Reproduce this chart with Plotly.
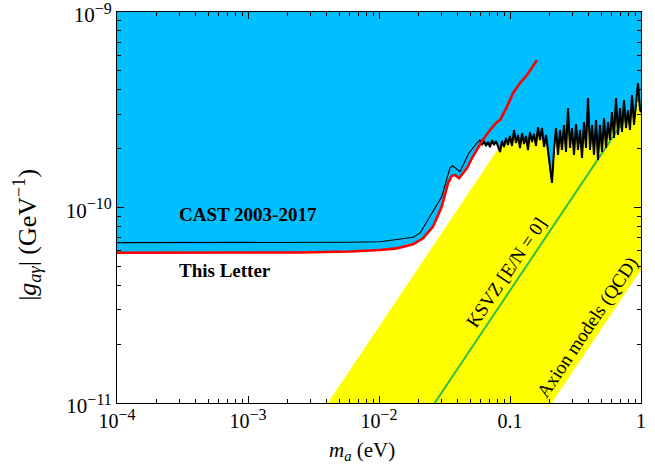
import plotly.graph_objects as go
import math

# ---------------- data ----------------
# CAST 2003-2017 limit: axion mass (eV) and coupling (units of 1e-10 GeV^-1)
cast_m = [1e-4, 0.0025, 0.0060, 0.0102, 0.01446, 0.0182, 0.0206, 0.0301, 0.0348, 0.0365,
          0.0415, 0.0486, 0.0560,
          0.0590, 0.0611, 0.0633, 0.0656, 0.0679, 0.0704, 0.0729, 0.0755, 0.0782, 0.0810,
          0.0839, 0.0869, 0.0900, 0.0932, 0.0965, 0.1000, 0.1036, 0.1073, 0.1111, 0.1151,
          0.1192, 0.1235, 0.1279, 0.1325, 0.1372, 0.1421, 0.1472, 0.1525, 0.1579, 0.1636,
          0.1694, 0.1755, 0.1818, 0.1883, 0.1950, 0.2020, 0.2092, 0.2167, 0.2245, 0.2325,
          0.2408, 0.2494, 0.2584, 0.2676, 0.2772, 0.2871, 0.2974, 0.3080, 0.3190, 0.3304,
          0.3422, 0.3545, 0.3672, 0.3803, 0.3939, 0.4080, 0.4226, 0.4377, 0.4534, 0.4696,
          0.4864, 0.5038, 0.5218, 0.5405, 0.5598, 0.5798, 0.6006, 0.6221, 0.6443, 0.6674,
          0.6912, 0.7160, 0.7416, 0.7681, 0.7956, 0.8241, 0.8536, 0.8841, 0.9158, 0.9486,
          0.9826, 1.0]
cast_g = [0.661, 0.661, 0.664, 0.668, 0.690, 0.704, 0.741, 1.136, 1.592, 1.636,
          1.524, 1.90, 2.138,
          2.214, 2.088, 2.188, 2.064, 2.163, 2.039, 2.214, 2.088, 2.188, 2.064,
          1.922, 2.188, 2.039, 2.267, 2.088, 2.321, 2.064, 2.491, 2.138, 2.349,
          2.015, 2.404, 2.113, 2.321, 1.968, 2.433, 2.163, 2.377, 2.064, 2.580,
          2.214, 2.550, 2.039, 2.349, 1.968, 1.650, 1.335, 1.968, 2.550, 1.855,
          2.491, 1.968, 2.642, 1.922, 3.228, 2.015, 2.550, 1.855, 2.674, 1.968,
          2.491, 1.791, 2.737, 2.015, 3.633, 1.968, 2.642, 1.855, 2.803, 1.750,
          2.642, 1.922, 2.870, 2.015, 2.737, 2.214, 3.080, 2.267, 3.633, 2.349,
          3.228, 2.433, 3.548, 2.550, 3.153, 2.491, 3.762, 2.642, 3.548, 4.334,
          3.153, 3.080]

# This Letter limit
letter_m = [1e-4, 0.0025, 0.0060, 0.0102, 0.01365, 0.01818, 0.02167, 0.02584, 0.0301,
            0.0336, 0.0359, 0.0380, 0.0408, 0.0470, 0.0513, 0.0560, 0.0611, 0.0704,
            0.0796, 0.0839, 0.0949, 0.1054, 0.1192, 0.1348, 0.1607]
letter_g = [0.587, 0.589, 0.596, 0.606, 0.618, 0.648, 0.696, 0.798, 1.009,
            1.330, 1.449, 1.466, 1.411, 1.592, 1.791, 1.968, 2.188, 2.491,
            2.737, 2.803, 3.28, 3.84, 4.33, 4.76, 5.68]

G_UNIT = 1e-10  # GeV^-1

# QCD axion band edges and KSVZ line: g = coef * m  (GeV^-1 per eV)
band_upper_coef = 2.46e-9
band_lower_coef = 4.8e-11
ksvz_coef = 3.76e-10

x_range = (1e-4, 1.0)
y_range = (1e-11, 1e-9)

SUP = "<sup><span style='font-size:16px'>{}</span></sup>"
x_tickvals = [1e-4, 1e-3, 1e-2, 0.1, 1]
x_ticktext = ["10" + SUP.format("\u22124"), "10" + SUP.format("\u22123"),
              "10" + SUP.format("\u22122"), "0.1", "1"]
y_tickvals = [1e-11, 1e-10, 1e-9]
y_ticktext = ["10" + SUP.format("\u221211"), "10" + SUP.format("\u221210"),
              "10" + SUP.format("\u22129")]

# ---------------- figure ----------------
CYAN = "#00BFFF"
YELLOW = "#FFFF00"
GREEN = "#2DBE4B"
FONT = "Liberation Serif"

cast_gv = [v * G_UNIT for v in cast_g]
letter_gv = [v * G_UNIT for v in letter_g]

fig = go.Figure()

# yellow QCD band
ylo, yhi = y_range
xlo, xhi = x_range
band_x = [ylo / band_upper_coef, ylo / band_lower_coef, xhi, xhi, yhi / band_upper_coef]
band_y = [ylo, ylo, band_lower_coef * xhi, yhi, yhi]
fig.add_trace(go.Scatter(x=band_x, y=band_y, fill="toself", fillcolor=YELLOW,
                         mode="none", hoverinfo="skip", showlegend=False))

# KSVZ line
ksvz_x = [ylo / ksvz_coef, xhi]
ksvz_y = [ylo, ksvz_coef * xhi]
fig.add_trace(go.Scatter(x=ksvz_x, y=ksvz_y, mode="lines",
                         line=dict(color=GREEN, width=2), showlegend=False))

# cyan excluded regions
fig.add_trace(go.Scatter(x=cast_m + [xhi, xlo], y=cast_gv + [yhi, yhi], fill="toself",
                         fillcolor=CYAN, mode="none", showlegend=False))
fig.add_trace(go.Scatter(x=letter_m + [letter_m[-1], xlo], y=letter_gv + [yhi, yhi],
                         fill="toself", fillcolor=CYAN, mode="none", showlegend=False))

# limit curves
fig.add_trace(go.Scatter(x=cast_m, y=cast_gv, mode="lines",
                         line=dict(color="black", width=1.1), showlegend=False))
# the noisy high-mass part of the CAST curve is drawn a little heavier
noisy = [i for i, m in enumerate(cast_m) if m >= 0.059]
fig.add_trace(go.Scatter(x=[cast_m[i] for i in noisy], y=[cast_gv[i] for i in noisy],
                         mode="lines", line=dict(color="black", width=2.0),
                         showlegend=False))
fig.add_trace(go.Scatter(x=letter_m, y=letter_gv, mode="lines",
                         line=dict(color="#FF0000", width=2.6), showlegend=False))

minor_x = [k * 10 ** e for e in range(-4, 0) for k in range(2, 10)]
minor_y = [k * 10 ** e for e in range(-11, -9) for k in range(2, 10)]

axis_common = dict(showline=True, linecolor="black", linewidth=1, mirror="allticks",
                   ticks="inside", ticklen=7, tickwidth=1, tickcolor="black",
                   showgrid=False, zeroline=False, ticklabeloverflow="allow",
                   automargin=False)

fig.update_xaxes(type="log", range=[math.log10(xlo), math.log10(xhi)],
                 tickmode="array", tickvals=x_tickvals, ticktext=x_ticktext,
                 tickfont=dict(family=FONT, size=20, color="black"),
                 minor=dict(tickmode="array", tickvals=minor_x, ticks="inside",
                            ticklen=4, tickcolor="black", showgrid=False),
                 **axis_common)
fig.update_yaxes(type="log", range=[math.log10(ylo), math.log10(yhi)],
                 tickmode="array", tickvals=y_tickvals, ticktext=y_ticktext,
                 tickfont=dict(family=FONT, size=21, color="black"),
                 ticklabelshift=3,
                 minor=dict(tickmode="array", tickvals=minor_y, ticks="inside",
                            ticklen=4, tickcolor="black", showgrid=False),
                 **axis_common)

ann_font = dict(family=FONT, size=19, color="black")
annotations = [
    dict(x=-3.0, y=-10.038, xref="x", yref="y", text="<b>CAST 2003-2017</b>",
         showarrow=False, font=ann_font, xanchor="center", yanchor="middle"),
    dict(x=-3.176, y=-10.320, xref="x", yref="y", text="<b>This Letter</b>",
         showarrow=False, font=ann_font, xanchor="center", yanchor="middle"),
    dict(x=-1.031, y=-10.330, xref="x", yref="y", text="KSVZ [E/N = 0]",
         showarrow=False, textangle=-56, font=ann_font, xanchor="center", yanchor="middle"),
    dict(x=-0.405, y=-10.611, xref="x", yref="y", text="Axion models (QCD)",
         showarrow=False, textangle=-56, font=ann_font, xanchor="center", yanchor="middle"),
    dict(x=-0.1718, y=0.43, xref="paper", yref="paper",
         text="|<i>g</i><sub><i>a\u03b3</i></sub>| (GeV<sup>\u22121</sup>)",
         showarrow=False, textangle=-90, xanchor="center", yanchor="middle",
         font=dict(family=FONT, size=26, color="black")),
    dict(x=0.468, y=-0.124, xref="paper", yref="paper",
         text="<i>m</i><sub><i>a</i></sub> (eV)", xanchor="center", yanchor="middle",
         showarrow=False, font=dict(family=FONT, size=21, color="black")),
]

fig.update_layout(width=655, height=466, margin=dict(l=117, r=14, t=12, b=63),
                  paper_bgcolor="white", plot_bgcolor="white",
                  annotations=annotations, showlegend=False)

fig.write_html("out.html")
